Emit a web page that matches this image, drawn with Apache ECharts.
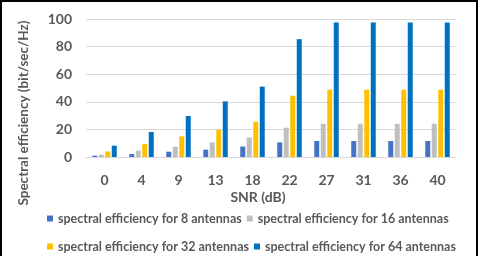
<!DOCTYPE html>
<html><head><meta charset="utf-8">
<script src="https://cdn.jsdelivr.net/npm/echarts@6/dist/echarts.min.js"></script>
<style>html,body{margin:0;padding:0;background:#fff}#c{width:488px;height:256px}</style>
</head><body><div id="c"></div>
<script>
const categories = ['0','4','9','13','18','22','27','31','36','40'];
const ant8  = [1, 2.2, 3.8, 5.3, 7.6, 10.6, 11.6, 11.6, 11.6, 11.6];
const ant16 = [1.7, 4.6, 7.4, 10.6, 14.2, 21.2, 24.1, 24.1, 24.1, 24.1];
const ant32 = [4, 9.4, 15, 19.6, 25.6, 44.4, 48.8, 48.8, 48.8, 48.8];
const ant64 = [8.2, 18.1, 29.7, 40.3, 51, 85.4, 97.5, 97.5, 97.5, 97.5];
const seriesNames = ['spectral efficiency for 8 antennas','spectral efficiency for 16 antennas','spectral efficiency for 32 antennas','spectral efficiency for 64 antennas'];
const colors = ['#4472C4','#BFBFBF','#FFC000','#0070C0'];
const yTicks = {min:0, max:100, interval:20};
const FONT = 'Lato';
const chart = echarts.init(document.getElementById('c'));
const vals = [ant8, ant16, ant32, ant64];
const legendStyle = {color:'#595959', fontSize:12.5, fontWeight:'bold', fontFamily:FONT, width:190};
chart.setOption({
  animation:false,
  color: colors,
  grid:{left:86, right:32, top:19, bottom:99},
  legend:[
    {data:[seriesNames[0],seriesNames[1]], left:42, top:207, itemWidth:6, itemHeight:6, itemGap:5, icon:'rect', textStyle:legendStyle},
    {data:[seriesNames[2],seriesNames[3]], left:42, top:235, itemWidth:6, itemHeight:6, itemGap:5, icon:'rect', textStyle:legendStyle}
  ],
  xAxis:{type:'category', data:categories, axisTick:{show:false},
    axisLine:{lineStyle:{color:'#D9D9D9'}},
    axisLabel:{color:'#595959', fontSize:14, fontWeight:'bold', fontFamily:FONT, margin:16}},
  yAxis:{type:'value', min:yTicks.min, max:yTicks.max, interval:yTicks.interval,
    axisLabel:{color:'#595959', fontSize:14, fontWeight:'bold', fontFamily:FONT, margin:14},
    splitLine:{lineStyle:{color:'#D9D9D9'}}},
  series: vals.map((v,i)=>({name:seriesNames[i], type:'bar', data:v, barWidth:5, barGap:'30%', barCategoryGap:'30%'})),
  graphic:[
    {type:'rect', shape:{x:1, y:1, width:476, height:270}, style:{fill:'none', stroke:'#000', lineWidth:2}, silent:true},
    {type:'text', x:258, y:197, style:{text:'SNR (dB)', fill:'#595959', font:'bold 14px Lato', align:'center', verticalAlign:'middle'}},
    {type:'text', x:24, y:113, rotation:Math.PI/2, style:{text:'Spectral efficiency (bit/sec/Hz)', fill:'#595959', font:'bold 13.5px Lato', align:'center', verticalAlign:'middle'}}
  ]
});
</script></body></html>
